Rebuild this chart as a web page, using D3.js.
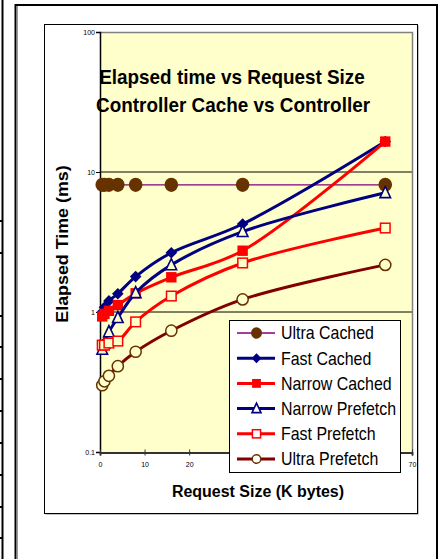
<!DOCTYPE html>
<html><head><meta charset="utf-8">
<script src="https://cdn.jsdelivr.net/npm/d3@7"></script>
<style>
html,body{margin:0;padding:0;background:#fff;}
svg{display:block;font-family:"Liberation Sans",Arial,sans-serif;}
</style></head>
<body><svg id="c" width="442" height="559"></svg>
<script>
// ---- data ----
const requestSizes = [0.5, 1, 2, 4, 8, 16, 32, 64];
const ultraCached    = [8.1, 8.1, 8.1, 8.1, 8.1, 8.1, 8.1, 8.1];
const fastCached     = [1.0, 1.08, 1.2, 1.35, 1.79, 2.65, 4.25, 16.5];
const narrowCached   = [0.93, 0.97, 1.02, 1.12, 1.36, 1.77, 2.74, 16.5];
const narrowPrefetch = [0.54, 0.6, 0.72, 0.91, 1.37, 2.17, 3.75, 7.1];
const fastPrefetch   = [0.58, 0.58, 0.6, 0.62, 0.85, 1.3, 2.24, 3.98];
const ultraPrefetch  = [0.30, 0.32, 0.35, 0.41, 0.52, 0.735, 1.23, 2.17];
const seriesNames = ["Ultra Cached","Fast Cached","Narrow Cached","Narrow Prefetch","Fast Prefetch","Ultra Prefetch"];
const yTickValues = [0.1, 1, 10, 100];
const yTickLabels = ["0.1","1","10","100"];
const xTickValues = [0,10,20,30,40,50,60,70];
const xTickLabels = ["0","10","20","30","40","50","60","70"];
const titleLines = ["Elapsed time vs Request Size","Controller Cache vs Controller"];

const seriesValues = [ultraCached, fastCached, narrowCached, narrowPrefetch, fastPrefetch, ultraPrefetch];
const styles = [
  {line:"#800080", lw:1.3, marker:"circle", size:6.8, fill:"#663300", stroke:"#663300", sw:0},
  {line:"#000080", lw:3, marker:"diamond", size:5.8, fill:"#000080", stroke:"#000080", sw:0},
  {line:"#FF0000", lw:3, marker:"square", size:5.2, fill:"#FF0000", stroke:"#FF0000", sw:0},
  {line:"#000080", lw:3, marker:"triangle", size:5.3, fill:"bg", stroke:"#000080", sw:1.6},
  {line:"#FF0000", lw:3, marker:"square", size:4.8, fill:"bg", stroke:"#FF0000", sw:1.5},
  {line:"#800000", lw:3, marker:"circle", size:5.6, fill:"bg", stroke:"#663300", sw:1.5}
];

const svg = d3.select("#c");
const W = 442, H = 559;

// ---- page decorations ----
svg.append("line").attr("x1",2.5).attr("x2",2.5).attr("y1",0).attr("y2",H).attr("stroke","#000").attr("stroke-width",2);
[221,253,316,347,379,411,443,475,507,538].forEach(yy=>{
  svg.append("line").attr("x1",0).attr("x2",3).attr("y1",yy).attr("y2",yy).attr("stroke","#000").attr("stroke-width",2);
});
// outer frame
svg.append("path").attr("d",`M15.5,${H} V5 H437 V${H}`).attr("fill","none").attr("stroke","#000").attr("stroke-width",2);
svg.append("line").attr("x1",17.5).attr("x2",17.5).attr("y1",6).attr("y2",H).attr("stroke","#999").attr("stroke-width",1);
// chart area frame with shadow
svg.append("rect").attr("x",45.5).attr("y",25.5).attr("width",373).attr("height",489).attr("fill","#888");
svg.append("rect").attr("x",44.5).attr("y",24.5).attr("width",373).attr("height",489).attr("fill","#fff").attr("stroke","#000").attr("stroke-width",1);

// ---- scales ----
const x = d3.scaleLinear().domain([0,70]).range([100,412]);
const y = d3.scaleLog().domain([0.1,100]).range([452,32]);
const bg = "#FFFFCC";

// legend box geometry (drawn last, covers some tick labels)
const legX0 = 229.5, legX1 = 400.5;

// plot area
svg.append("rect").attr("x",100).attr("y",32).attr("width",312).attr("height",420).attr("fill",bg);
// gridlines
svg.append("g").selectAll("line").data([1,10]).join("line")
  .attr("x1",100).attr("x2",412).attr("y1",d=>y(d)).attr("y2",d=>y(d))
  .attr("stroke","#000").attr("stroke-width",1);
// border top/right
svg.append("path").attr("d","M100,32.5 H412.5 V452").attr("fill","none").attr("stroke","#808080").attr("stroke-width",1.5);

// ---- axes ----
const yAxis = svg.append("g").attr("transform","translate(100,0)")
  .call(d3.axisLeft(y).tickValues(yTickValues).tickFormat((d,i)=>yTickLabels[i]).tickSize(4).tickPadding(1));
yAxis.select(".domain").attr("stroke","#000").attr("stroke-width",1.5);
yAxis.selectAll("text").attr("font-size",7).attr("font-family","Liberation Sans, Arial").attr("fill","#000");

const xAxis = svg.append("g").attr("transform","translate(0,452.5)")
  .call(d3.axisBottom(x).tickValues(xTickValues).tickFormat((d,i)=>xTickLabels[i]).tickSize(3).tickPadding(7));
xAxis.select(".domain").attr("stroke","#333").attr("stroke-width",2);
xAxis.selectAll(".tick line").attr("y1",-3).attr("stroke","#333");
xAxis.selectAll("text").attr("font-size",7).attr("font-family","Liberation Sans, Arial").attr("fill","#000");
// labels hidden behind the legend box in the original are not drawn
xAxis.selectAll(".tick").filter(d=>x(d) > legX0 && x(d) < legX1).select("text").remove();

// ---- markers ----
function drawMarker(g, st, cx, cy, fillBg){
  const f = st.fill === "bg" ? fillBg : st.fill;
  const s = st.size;
  let el;
  if (st.marker === "circle") el = g.append("ellipse").attr("cx",cx).attr("cy",cy).attr("rx",s).attr("ry",st.sw===0 ? s*1.05 : s);
  else if (st.marker === "square") el = g.append("rect").attr("x",cx-s).attr("y",cy-s).attr("width",2*s).attr("height",2*s);
  else if (st.marker === "diamond") el = g.append("path").attr("d",`M${cx},${cy-s} L${cx+s},${cy} L${cx},${cy+s} L${cx-s},${cy} Z`);
  else if (st.marker === "triangle") el = g.append("path").attr("d",`M${cx},${cy-s-1} L${cx+s},${cy+s-0.5} L${cx-s},${cy+s-0.5} Z`);
  el.attr("fill",f).attr("stroke",st.stroke).attr("stroke-width",st.sw);
}

// ---- series ----
const line = d3.line().x(d=>x(d[0])).y(d=>y(d[1])).curve(d3.curveCatmullRom.alpha(0.5));
const plotG = svg.append("g");
seriesValues.forEach((vals,i)=>{
  const st = styles[i];
  const pts = requestSizes.map((r,j)=>[r, vals[j]]);
  plotG.append("path").attr("d",line(pts)).attr("fill","none").attr("stroke",st.line).attr("stroke-width",st.lw).attr("stroke-linejoin","round");
  const mg = plotG.append("g");
  pts.forEach(p=>drawMarker(mg, st, x(p[0]), y(p[1]), bg));
});

// ---- titles ----
function scaledText(txt, cx, by, size, sx, weight, anchor){
  return svg.append("text").attr("transform",`translate(${cx},${by}) scale(${sx},1)`)
    .attr("text-anchor",anchor||"middle").attr("font-size",size).attr("font-weight",weight||"normal")
    .attr("fill","#000").text(txt);
}
scaledText(titleLines[0], 232, 84, 21, 0.9, "bold");
scaledText(titleLines[1], 233, 112, 21, 0.9, "bold");
scaledText("Request Size (K bytes)", 258, 497, 17, 0.94, "bold");
svg.append("text").attr("transform","translate(68,244) rotate(-90) scale(1.05,1)")
  .attr("text-anchor","middle").attr("font-size",17).attr("font-weight","bold").attr("fill","#000")
  .text("Elapsed Time (ms)");

// ---- legend ----
const lg = svg.append("g");
lg.append("rect").attr("x",legX0).attr("y",320.5).attr("width",legX1-legX0).attr("height",152).attr("fill","#fff").attr("stroke","#000").attr("stroke-width",1);
seriesNames.forEach((name,i)=>{
  const st = styles[i];
  const cy = 333 + i*25.2;
  lg.append("line").attr("x1",237).attr("x2",275).attr("y1",cy).attr("y2",cy).attr("stroke",st.line).attr("stroke-width",st.lw);
  drawMarker(lg, Object.assign({}, st, {size: st.marker==="circle" && i===0 ? 5.5 : (st.marker==="circle"?4.3:st.size*0.85)}), 256.5, cy, "#fff");
  lg.append("text").attr("transform",`translate(281,${cy+6.3}) scale(0.885,1)`)
    .attr("font-size",18).attr("fill","#000").text(name);
});
</script>
</body></html>
